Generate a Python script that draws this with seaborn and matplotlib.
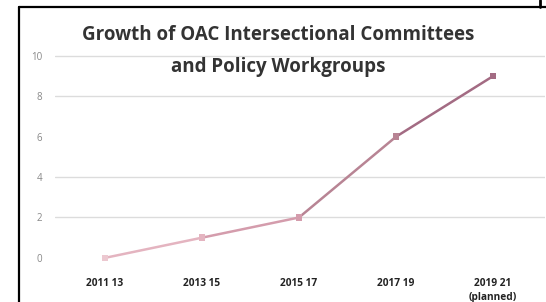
import matplotlib
matplotlib.use("Agg")
import matplotlib.pyplot as plt
from matplotlib.lines import Line2D
import seaborn as sns
import pandas as pd

sns.set_theme(style="white")
plt.rcParams["font.family"] = ["Open Sans", "DejaVu Sans"]

periodos = ["2011 13", "2013 15", "2015 17", "2017 19", "2019 21\n(planned)"]
comites = [0, 1, 2, 6, 9]
colores = ["#ecc8d0", "#e4b4c0", "#d49cac", "#b88494", "#a36b83"]

df = pd.DataFrame({"Periodo": periodos, "Comites": comites})
df["x"] = range(len(df))

fig = plt.figure(figsize=(5.46, 3.02), dpi=100)
ax = fig.add_axes([0.1007, 0.106, 0.8974, 0.742])

# cada tramo con su propio color (degradado)
for i in range(len(df) - 1):
    tramo = df.iloc[i:i + 2]
    sns.lineplot(data=tramo, x="x", y="Comites", ax=ax, color=colores[i + 1],
                 linewidth=1.8, legend=False)
sns.scatterplot(data=df, x="x", y="Comites", ax=ax, hue="Periodo",
                palette=colores, marker="s", s=22, edgecolor="none",
                legend=False, zorder=3)

ax.set_xlim(-0.515, 4.536)
ax.set_ylim(-0.6, 10.5)
ax.set_xticks(df["x"])
ax.set_xticklabels(periodos, fontsize=7.3, fontweight="bold", color="#222222",
                   linespacing=1.3)
ax.set_yticks([0, 2, 4, 6, 8, 10])
ax.set_yticklabels(["0", "2", "4", "6", "8", "10"], fontsize=7, color="#888888")
ax.tick_params(axis="both", length=0)
ax.tick_params(axis="y", pad=9)
ax.tick_params(axis="x", pad=6)
for v in [2, 4, 8, 10]:
    ax.axhline(v, color="#dcdcdc", linewidth=1, zorder=0)
ax.set_xlabel("")
ax.set_ylabel("")
sns.despine(ax=ax, left=True, bottom=True)

fig.text(0.51, 1 - 51 / 302, "Growth of OAC Intersectional Committees\nand Policy Workgroups",
         ha="center", va="center", fontsize=13.5, fontweight="bold",
         color="#333333", linespacing=1.75)

# marco de la captura
fig.add_artist(Line2D([19 / 546, 1], [1 - 7 / 302] * 2, color="black", linewidth=1.6))
fig.add_artist(Line2D([19 / 546] * 2, [0, 1 - 7 / 302], color="black", linewidth=1.6))
fig.add_artist(Line2D([540 / 546] * 2, [1 - 7 / 302, 1], color="black", linewidth=2))

fig.savefig("out.png", dpi=100)
